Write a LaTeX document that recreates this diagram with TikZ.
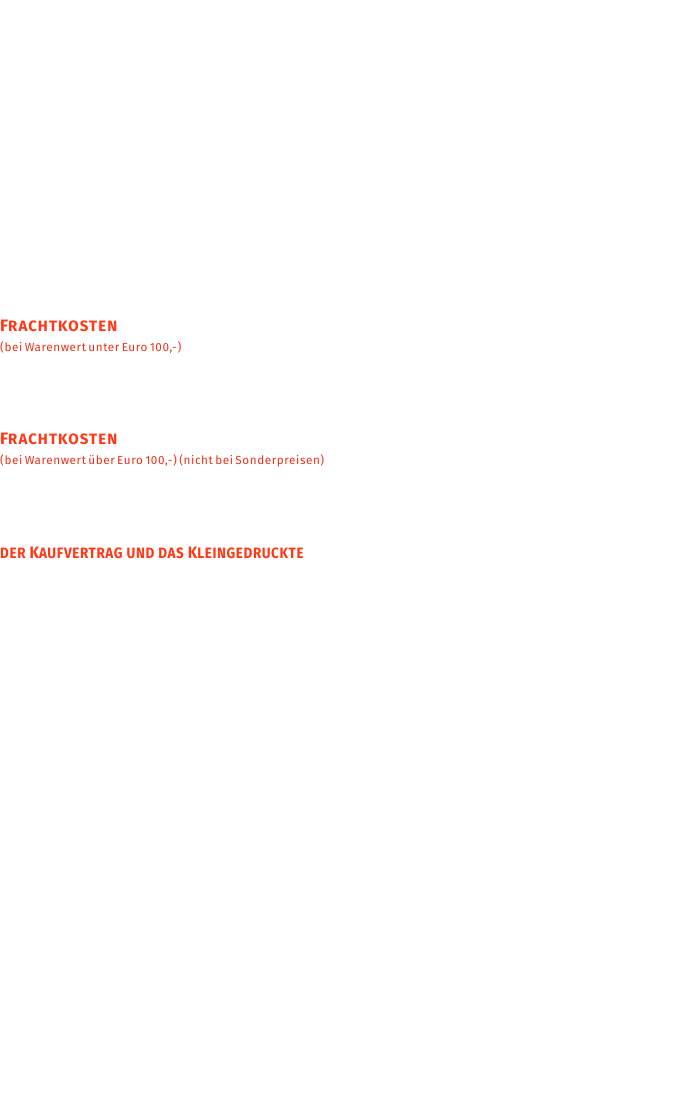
\documentclass[tikz,border=0pt]{standalone}
\usepackage{fontspec}
\usepackage{tikz}
\usetikzlibrary{positioning}
\setmainfont{Fira Sans}[LetterSpace=5]
\newfontfamily\headfont{Fira Sans}[UprightFont=* Bold, LetterSpace=7]
\newfontfamily\headfontnarrow{Fira Sans}[UprightFont=* Bold, LetterSpace=4, FakeStretch=0.9]
\definecolor{titlered}{RGB}{255,55,20}
\definecolor{textred}{RGB}{235,50,25}
\newcommand\hcap[1]{{\fontsize{16.5}{16.5}\selectfont #1}}
\newcommand\notefont{\fontsize{11.7}{11.7}\selectfont\spaceskip=2.4pt plus 1pt\relax}
\newcommand\vertragfont{\headfontnarrow\fontsize{15}{15}\selectfont\spaceskip=4pt\relax}

\begin{document}
\begin{tikzpicture}[x=1pt, y=-1pt,
     node distance = 20pt and 0pt,
      title/.style = {inner sep=0pt, anchor=base west, text=titlered,
                      font=\headfont\fontsize{15}{15}\selectfont},
       note/.style = {inner sep=0pt, anchor=base west, text=textred,
                      font=\notefont}
                        ]
\useasboundingbox (0,0) rectangle (692,1116);
\node (fracht1) [title] at (0,331) {\hcap{F}RACHTKOSTEN};
\node (note1)   [note, below=of fracht1.base west, anchor=base west]
      {(bei Warenwert unter Euro 100,-)};
\node (fracht2) [title] at (0,444) {\hcap{F}RACHTKOSTEN};
\node (note2)   [note, below=of fracht2.base west, anchor=base west]
      {(bei Warenwert über Euro 100,-) (nicht bei Sonderpreisen)};
\node (vertrag) [title, font=\vertragfont] at (0,558)
      {DER \hcap{K}AUFVERTRAG UND DAS \hcap{K}LEINGEDRUCKTE};
\end{tikzpicture}
\end{document}
